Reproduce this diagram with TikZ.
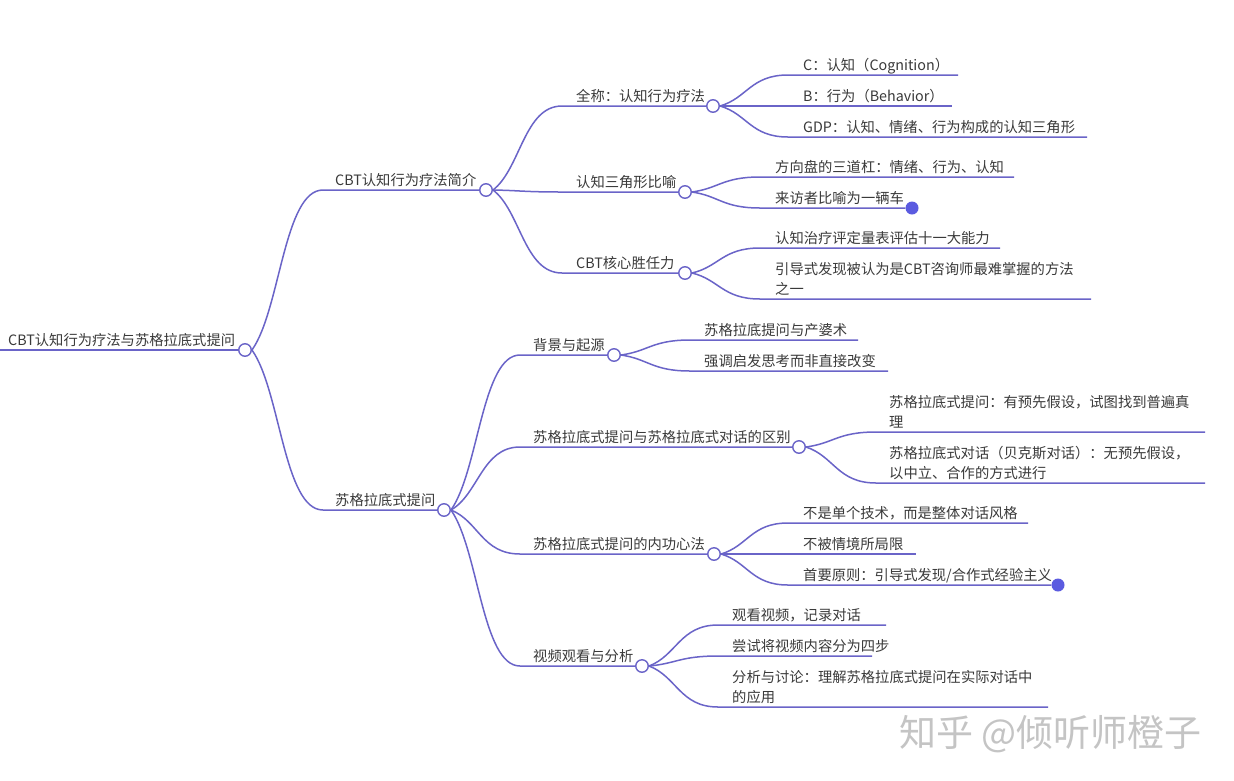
\documentclass[tikz,border=0pt]{standalone}
\usepackage{fontspec}
\newfontfamily\cjk{Noto Sans CJK SC}
\usetikzlibrary{calc}
\definecolor{edgec}{HTML}{6A64C8}
\definecolor{dotc}{HTML}{5B5BE0}
\definecolor{txtc}{HTML}{3A3A3A}
\definecolor{wmc}{HTML}{C4C4C4}
\newcommand\linkto[3]{\draw[edge] let \p1=(#1.east), \p2=(#2) in (\p1) .. controls ({\x1+0.4*(\x2-\x1)},{\y1+0.25*(\y2-\y1)}) and ({\x2-0.55*(\x2-\x1)},\y2) .. (\p2) -- (#3);}
\begin{document}
\begin{tikzpicture}[x=1pt,y=-1pt,
  edge/.style={draw=edgec, line width=1.5pt},
  knob/.style={circle, draw=edgec, fill=white, line width=1.4pt, minimum size=12.5pt, inner sep=0pt},
  enddot/.style={circle, fill=dotc, minimum size=13pt, inner sep=0pt},
  lbl/.style={anchor=base west, inner sep=0pt, font=\cjk\fontsize{14.3}{20}\selectfont, text=txtc, align=left},
]
\useasboundingbox (0,0) rectangle (1234,780);
\fill[white] (0,0) rectangle (1234,780);

% ---------- knobs, coordinates, labels ----------
% root
\coordinate (r0) at (0,350);
\node[knob] (r) at (245,350) {};
\node[lbl] (rt) at (8,345) {CBT认知行为疗法与苏格拉底式提问};

% level 1
\coordinate (a0) at (323,190);
\node[knob] (a) at (486,190) {};
\node[lbl] (at) at (335,185) {CBT认知行为疗法简介};
\coordinate (b0) at (323,510);
\node[knob] (b) at (444,510) {};
\node[lbl] (bt) at (335,505) {苏格拉底式提问};

% level 2 under a
\coordinate (a10) at (562,106);
\node[knob] (a1) at (713,106) {};
\node[lbl] (a1t) at (576,101) {全称：认知行为疗法};
\coordinate (a20) at (562,192);
\node[knob] (a2) at (685,192) {};
\node[lbl] (a2t) at (576,187) {认知三角形比喻};
\coordinate (a30) at (562,273);
\node[knob] (a3) at (685,273) {};
\node[lbl] (a3t) at (576,268) {CBT核心胜任力};

% level 3 under a1
\coordinate (a110) at (788,75);  \coordinate (a11) at (958,75);
\node[lbl] (a11t) at (803,70) {C：认知（Cognition）};
\coordinate (a120) at (788,106); \coordinate (a12) at (952,106);
\node[lbl] (a12t) at (803,101) {B：行为（Behavior）};
\coordinate (a130) at (788,137); \coordinate (a13) at (1087,137);
\node[lbl] (a13t) at (803,132) {GDP：认知、情绪、行为构成的认知三角形};

% level 3 under a2
\coordinate (a210) at (760,177); \coordinate (a21) at (1014,177);
\node[lbl] (a21t) at (775,172) {方向盘的三道杠：情绪、行为、认知};
\coordinate (a220) at (760,208);
\node[enddot] (a22) at (912,208) {};
\node[lbl] (a22t) at (775,203) {来访者比喻为一辆车};

% level 3 under a3
\coordinate (a310) at (760,248); \coordinate (a31) at (1000,248);
\node[lbl] (a31t) at (775,243) {认知治疗评定量表评估十一大能力};
\coordinate (a320) at (760,299); \coordinate (a32) at (1091,299);
\node[lbl] (a32t) at (775,294) {引导式发现被认为是CBT咨询师最难掌握的方法\\之一};

% level 2 under b
\coordinate (b10) at (520,355);
\node[knob] (b1) at (614,355) {};
\node[lbl] (b1t) at (533,350) {背景与起源};
\coordinate (b20) at (520,447);
\node[knob] (b2) at (799,447) {};
\node[lbl] (b2t) at (533,442) {苏格拉底式提问与苏格拉底式对话的区别};
\coordinate (b30) at (520,554);
\node[knob] (b3) at (714,554) {};
\node[lbl] (b3t) at (533,549) {苏格拉底式提问的内功心法};
\coordinate (b40) at (520,666);
\node[knob] (b4) at (642,666) {};
\node[lbl] (b4t) at (533,661) {视频观看与分析};

% level 3 under b1
\coordinate (b110) at (690,340); \coordinate (b11) at (858,340);
\node[lbl] (b11t) at (704,335) {苏格拉底提问与产婆术};
\coordinate (b120) at (690,371); \coordinate (b12) at (888,371);
\node[lbl] (b12t) at (704,366) {强调启发思考而非直接改变};

% level 3 under b2
\coordinate (b210) at (876,432); \coordinate (b21) at (1205,432);
\node[lbl] (b21t) at (889,427) {苏格拉底式提问：有预先假设，试图找到普遍真\\理};
\coordinate (b220) at (876,483); \coordinate (b22) at (1205,483);
\node[lbl] (b22t) at (889,478) {苏格拉底式对话（贝克斯对话）：无预先假设，\\以中立、合作的方式进行};

% level 3 under b3
\coordinate (b310) at (788,523); \coordinate (b31) at (1028,523);
\node[lbl] (b31t) at (803,518) {不是单个技术，而是整体对话风格};
\coordinate (b320) at (788,554); \coordinate (b32) at (916,554);
\node[lbl] (b32t) at (803,549) {不被情境所局限};
\coordinate (b330) at (788,585);
\node[enddot] (b33) at (1058,585) {};
\node[lbl] (b33t) at (803,580) {首要原则：引导式发现/合作式经验主义};

% level 3 under b4
\coordinate (b410) at (718,625); \coordinate (b41) at (886,625);
\node[lbl] (b41t) at (732,620) {观看视频，记录对话};
\coordinate (b420) at (718,656); \coordinate (b42) at (872,656);
\node[lbl] (b42t) at (732,651) {尝试将视频内容分为四步};
\coordinate (b430) at (718,707); \coordinate (b43) at (1048,707);
\node[lbl] (b43t) at (732,702) {分析与讨论：理解苏格拉底式提问在实际对话中\\的应用};

% ---------- connectors ----------
\draw[edge] (r0) -- (r);
\linkto{r}{a0}{a}
\linkto{r}{b0}{b}
\linkto{a}{a10}{a1}
\linkto{a}{a20}{a2}
\linkto{a}{a30}{a3}
\linkto{a1}{a110}{a11}
\linkto{a1}{a120}{a12}
\linkto{a1}{a130}{a13}
\linkto{a2}{a210}{a21}
\linkto{a2}{a220}{a22}
\linkto{a3}{a310}{a31}
\linkto{a3}{a320}{a32}
\linkto{b}{b10}{b1}
\linkto{b}{b20}{b2}
\linkto{b}{b30}{b3}
\linkto{b}{b40}{b4}
\linkto{b1}{b110}{b11}
\linkto{b1}{b120}{b12}
\linkto{b2}{b210}{b21}
\linkto{b2}{b220}{b22}
\linkto{b3}{b310}{b31}
\linkto{b3}{b320}{b32}
\linkto{b3}{b330}{b33}
\linkto{b4}{b410}{b41}
\linkto{b4}{b420}{b42}
\linkto{b4}{b430}{b43}

% watermark
\node[anchor=base west, inner sep=0pt, font=\cjk\fontsize{37}{40}\selectfont, text=wmc] (wm) at (899,746) {知乎 @倾听师橙子};
\end{tikzpicture}
\end{document}
